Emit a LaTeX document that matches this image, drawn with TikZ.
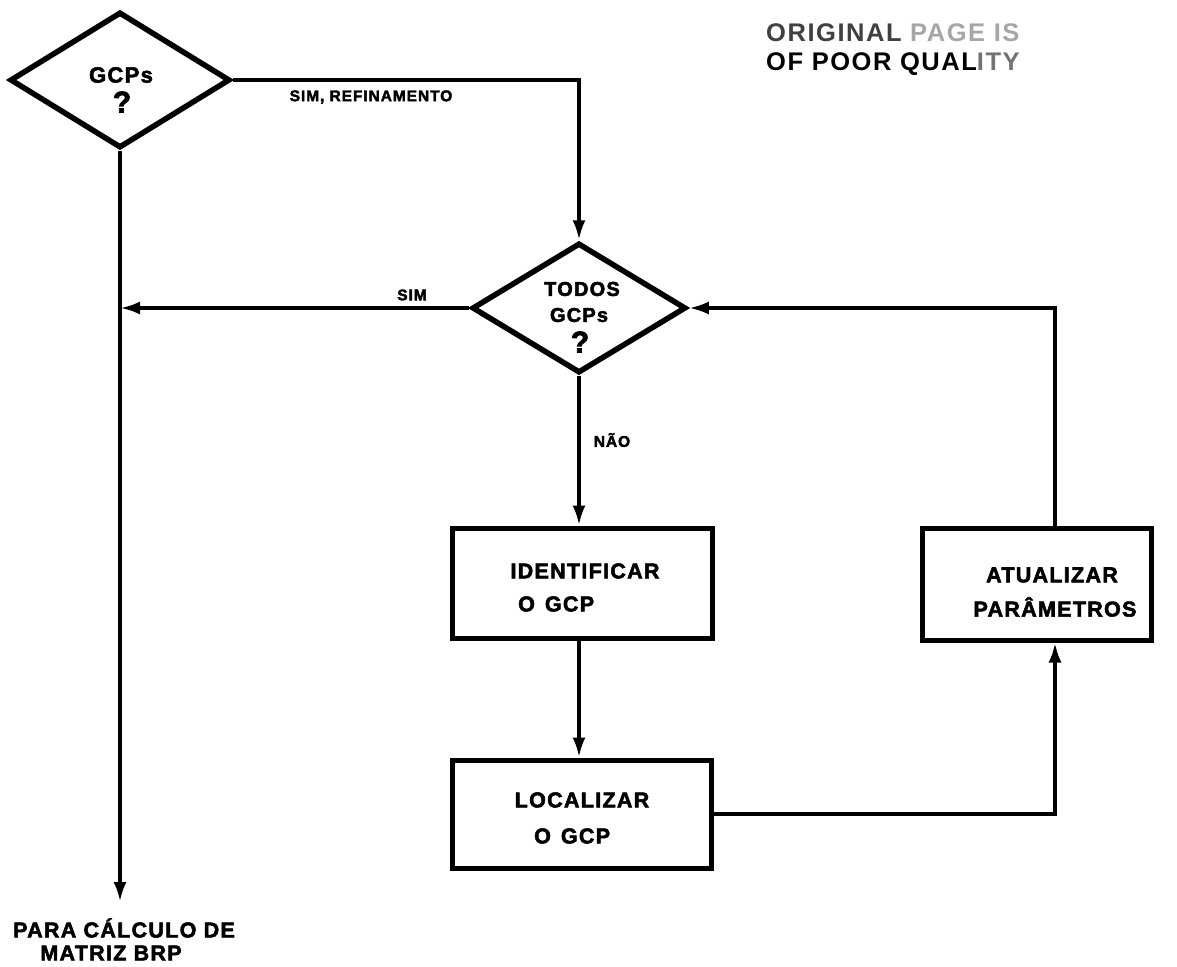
\documentclass[tikz,border=0pt]{standalone}
\usepackage{fontspec}
\setmainfont{Liberation Sans}[BoldFeatures={FakeBold=2.5,LetterSpace=6}]
\newfontfamily\stampfont{Liberation Sans}[LetterSpace=6]
\usetikzlibrary{shapes.geometric,arrows.meta}
\begin{document}
\begin{tikzpicture}[x=1pt,y=-1pt,
  decision/.style={draw,line width=5.5pt,diamond,inner sep=0pt,line join=miter},
  process/.style={draw,line width=5pt,rectangle,inner sep=0pt},
  txt/.style={font=\bfseries\fontsize{21.5}{26}\selectfont,inner sep=0pt},
  dtxt/.style={font=\bfseries\fontsize{20}{24}\selectfont,inner sep=0pt},
  qmark/.style={font=\bfseries\fontsize{30}{30}\selectfont,inner sep=0pt},
  flow/.style={line width=3.8pt,-{Latex[length=20pt,width=13pt]}},
  plain/.style={line width=3.8pt},
  tag/.style={font=\bfseries\fontsize{15.5}{18}\selectfont,inner sep=0pt},
  stamp/.style={font=\stampfont\bfseries\fontsize{25.5}{30}\selectfont,anchor=west,inner sep=0pt}]
\useasboundingbox (0,0) rectangle (1177,966);

% decision diamonds and their texts
\node[decision,minimum width=220pt,minimum height=136pt] (gcps) at (120,80) {};
\node[dtxt,font=\bfseries\fontsize{22}{24}\selectfont] (g1) at (121,75) {GCPs};
\node[qmark] (q1) at (122,102) {?};
\node[decision,minimum width=214pt,minimum height=130pt] (todos) at (579,308) {};
\node[dtxt] (t2) at (582,289) {TODOS};
\node[dtxt] (g2) at (579,315) {GCPs};
\node[qmark] (q2) at (580,342) {?};

% process boxes and their texts
\node[process,minimum width=260pt,minimum height=110pt] (ident) at (582,583) {};
\node[txt] (i1) at (585,571) {IDENTIFICAR};
\node[txt,anchor=west] (i2) at (518,604) {O\hspace{10pt}GCP};
\node[process,minimum width=259pt,minimum height=108pt] (local) at (582,814) {};
\node[txt] (l1) at (582,800) {LOCALIZAR};
\node[txt,anchor=west] (l2) at (534,836) {O\hspace{10pt}GCP};
\node[process,minimum width=229pt,minimum height=112pt] (atual) at (1037,584) {};
\node[txt] (a1) at (1052,575) {ATUALIZAR};
\node[txt] (a2) at (1055,607) {PARÂMETROS};

% bends of the connectors
\coordinate (c1) at (579,80);
\coordinate (c2) at (1055,308);
\coordinate (c3) at (1055,814);
\coordinate (left) at (120,308);
\coordinate (out) at (120,902);

% connectors
\draw[flow] (gcps.east) -- (c1) -- (todos.north);
\draw[plain] (gcps.south) -- (left);
\draw[flow] (left) -- (out);
\draw[flow] (todos.west) -- (left);
\draw[flow] (todos.south) -- (todos.south |- ident.north);
\draw[flow] (ident.south -| todos.south) -- (todos.south |- local.north);
\draw[flow] (local.east) -- (c3) -- (atual.south -| c3);
\draw[flow] (atual.north -| c2) -- (c2) -- (todos.east);

% branch labels
\node[tag] (lref) at (371,97) {SIM, REFINAMENTO};
\node[tag] (lsim) at (412,295) {SIM};
\node[tag] (lnao) at (612,440) {NÃO};
\node[txt] (d1) at (124,928) {PARA CÁLCULO DE};
\node[txt] (d2) at (111,953) {MATRIZ BRP};

% stamp
\node[stamp,text=black!75] (st1) at (766,33)
  {ORIGINAL \textcolor{black!35}{PAGE IS}};
\node[stamp] (st2) at (766,64)
  {OF POOR QUAL\textcolor{black!55}{ITY}};
\end{tikzpicture}
\end{document}
